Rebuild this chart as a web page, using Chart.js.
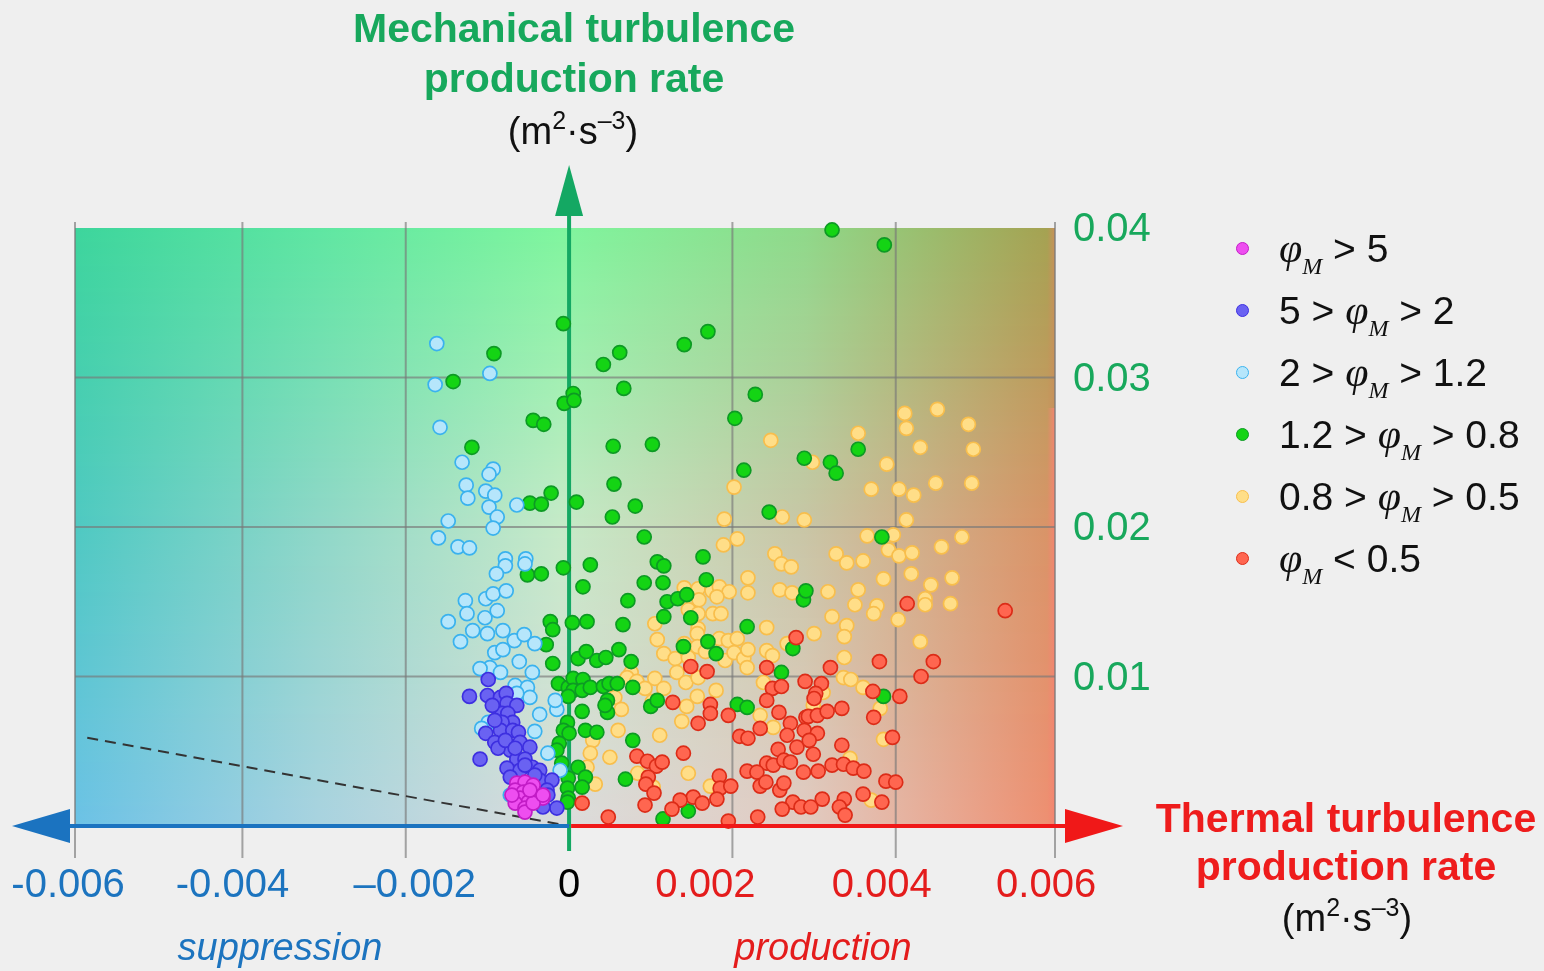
<!DOCTYPE html>
<html>
<head>
<meta charset="utf-8">
<script src="https://cdn.jsdelivr.net/npm/chart.js@4.4.1/dist/chart.umd.min.js"></script>
<style>
  body { margin: 0; background: #efefef; font-family: "Liberation Sans", Arial, Helvetica, sans-serif; }
  #wrap { position: relative; width: 1544px; height: 971px; overflow: hidden; }
  #wrap canvas { position: absolute; left: 0; top: 0; }
  .t { position: absolute; text-align: center; white-space: nowrap; transform: translateX(-50%); }
  .title { font-weight: bold; font-size: 41px; line-height: 50px; }
  .unit { font-size: 38px; color: #111; }
  .unit sup { font-size: 25px; vertical-align: 15px; line-height: 0; }
  .side { font-style: italic; font-size: 38px; }
  .legend { position: absolute; left: 1236px; top: 217px; }
  .legend .row { height: 62px; display: flex; align-items: center; font-size: 39px; color: #111; white-space: pre; }
  .legend .dot { width: 11px; height: 11px; border-radius: 50%; border: 1.5px solid; margin-right: 30px; }
  .phi { font-family: "Liberation Serif", "DejaVu Serif", serif; font-style: italic; font-size: 42px; }
  .sub { font-family: "Liberation Serif", "DejaVu Serif", serif; font-style: italic; font-size: 24px; position: relative; top: 12px; }
</style>
</head>
<body>
<div id="wrap">
  <canvas id="chart" width="1544" height="971"></canvas>
  <div class="t title" style="left:574px; top:3px; color:#17a85c;">Mechanical turbulence<br>production rate</div>
  <div class="t unit" style="left:573px; top:110px;">(m<sup>2</sup>·s<sup>–3</sup>)</div>
  <div class="t title" style="left:1346px; top:794px; color:#ee1c1c; line-height:48px;">Thermal turbulence<br>production rate</div>
  <div class="t unit" style="left:1347px; top:897px;">(m<sup>2</sup>·s<sup>–3</sup>)</div>
  <div class="t side" style="left:280px; top:926px; color:#1c74bf;">suppression</div>
  <div class="t side" style="left:823px; top:926px; color:#e41c1c;">production</div>
  <div class="legend" id="legend"></div>
</div>
<script>
// 축 범위 / 눈금
const xRange = [-0.00605, 0.00595];
const yRange = [0, 0.04];
const xTicks = [-0.006, -0.004, -0.002, 0, 0.002, 0.004, 0.006];
const xTickLabels = ['-0.006', '-0.004', '–0.002', '0', '0.002', '0.004', '0.006'];
const yTicks = [0.01, 0.02, 0.03, 0.04];
const yTickLabels = ['0.01', '0.02', '0.03', '0.04'];

// 범례 라벨
const seriesLabels = ['φM > 5', '5 > φM > 2', '2 > φM > 1.2', '1.2 > φM > 0.8', '0.8 > φM > 0.5', 'φM < 0.5'];

// 점선 (y = -x)
const refLineX = [-0.0059, 0];
const refLineY = [0.0059, 0];

// φM > 5
const phiAbove5 = [
  [-0.00064,0.00287],[-0.00054,0.00293],[-0.00044,0.00273],[-0.00066,0.0024],[-0.00056,0.00227],
  [-0.00039,0.00193],[-0.00032,0.00187],[-0.0006,0.00187],[-0.0005,0.0016],[-0.00066,0.00153],
  [-0.00054,0.0012],[-0.00054,0.00093],[-0.00044,0.00153],[-0.00032,0.00207],[-0.0007,0.00207],
  [-0.00048,0.0024]
];

// 5 > φM > 2
const phi5to2 = [
  [-0.00099,0.0098],[-0.00122,0.00867],[-0.001,0.00873],[-0.00084,0.0086],[-0.00077,0.00887],
  [-0.00076,0.0082],[-0.00064,0.00807],[-0.00082,0.00753],[-0.00075,0.00753],[-0.00069,0.00693],
  [-0.00082,0.00693],[-0.00084,0.0064],[-0.00069,0.0064],[-0.00062,0.00627],[-0.00102,0.0062],
  [-0.00091,0.0056],[-0.0006,0.0056],[-0.00048,0.00527],[-0.00072,0.00507],[-0.00087,0.0052],
  [-0.00109,0.00447],[-0.00064,0.00447],[-0.00054,0.00447],[-0.00076,0.00387],[-0.0006,0.00373],
  [-0.00045,0.00393],[-0.00036,0.00373],[-0.00072,0.00327],[-0.00036,0.00307],[-0.00021,0.00307],
  [-0.00027,0.0024],[-0.00015,0.0012],[-0.00032,0.00127],[-0.00091,0.00707],[-0.00078,0.00573],
  [-0.00094,0.00807],[-0.00066,0.0052],[-0.00042,0.0034],[-0.00054,0.00407],[-0.00026,0.00207]
];

// 2 > φM > 1.2
const phi2to12 = [
  [-0.00162,0.03227],[-0.00097,0.03027],[-0.00164,0.02953],[-0.00158,0.02667],[-0.00131,0.02433],
  [-0.00093,0.02387],[-0.00098,0.02353],[-0.00126,0.0228],[-0.00124,0.02193],[-0.00102,0.0224],
  [-0.00091,0.02213],[-0.00098,0.02133],[-0.00064,0.02147],[-0.00148,0.0204],[-0.00088,0.02067],
  [-0.00093,0.01993],[-0.0016,0.01927],[-0.00136,0.01867],[-0.00122,0.0186],[-0.00078,0.01787],
  [-0.00053,0.01787],[-0.00078,0.0174],[-0.00054,0.01753],[-0.00089,0.01687],[-0.00127,0.01507],
  [-0.00102,0.0152],[-0.00093,0.01553],[-0.00077,0.01573],[-0.00125,0.0142],[-0.00103,0.01393],
  [-0.00088,0.0144],[-0.00148,0.01367],[-0.00118,0.01307],[-0.001,0.01287],[-0.00081,0.01307],
  [-0.00067,0.0124],[-0.00055,0.0128],[-0.00042,0.0122],[-0.00133,0.01233],[-0.00091,0.0116],
  [-0.00081,0.0118],[-0.00061,0.011],[-0.00045,0.01027],[-0.00097,0.0106],[-0.00109,0.01053],
  [-0.00084,0.01027],[-0.00066,0.0094],[-0.00051,0.00927],[-0.00048,0.0086],[-0.00064,0.00887],
  [-0.00036,0.00747],[-0.00015,0.0078],[-0.00017,0.0084],[-0.00042,0.00633],[-0.00099,0.00693],
  [-0.00107,0.00653],[-0.00026,0.00487],[-0.00011,0.00373],[-0.00072,0.00207]
];

// 1.2 > φM > 0.8
const phi12to08 = [
  [0.00322,0.03987],[0.00386,0.03887],[-0.00007,0.0336],[0.0017,0.03307],[0.00141,0.0322],
  [0.00062,0.03167],[0.00042,0.03087],[-0.00092,0.0316],[-0.00142,0.02973],[0.00005,0.02893],
  [-0.00006,0.02827],[0.00006,0.02847],[0.00067,0.02927],[0.00228,0.02887],[0.00203,0.02727],
  [-0.00044,0.02713],[-0.00031,0.02687],[-0.00119,0.02533],[0.00054,0.0254],[0.00102,0.02553],
  [0.00288,0.0246],[0.00354,0.0252],[0.0032,0.02433],[0.00327,0.0236],[0.00214,0.0238],
  [0.00055,0.02287],[-0.00022,0.02227],[-0.00048,0.0216],[-0.00034,0.02153],[0.00009,0.02167],
  [0.00081,0.0214],[0.00053,0.02067],[0.00092,0.01933],[0.00245,0.021],[0.00383,0.01933],
  [0.00164,0.018],[0.00026,0.01747],[0.00108,0.01767],[0.00116,0.0174],[-0.00007,0.01727],
  [-0.00051,0.0168],[-0.00034,0.01687],[0.00017,0.016],[0.00092,0.01627],[0.00115,0.01627],
  [0.00072,0.01507],[0.0012,0.015],[0.00133,0.0152],[0.00144,0.01547],[0.00168,0.01647],
  [0.00116,0.014],[0.00149,0.01393],[0.00004,0.0136],[0.00022,0.01367],[0.00066,0.01347],
  [0.00218,0.01333],[0.00287,0.01513],[0.0029,0.01573],[-0.00023,0.01367],[-0.0002,0.01313],
  [-0.00028,0.01213],[-0.0002,0.01087],[0.00011,0.0112],[0.00021,0.01167],[0.00034,0.01107],
  [0.00045,0.01127],[0.00061,0.0118],[0.00076,0.011],[-0.00013,0.00953],[-0.00001,0.00927],
  [0.00005,0.00987],[0.00017,0.0098],[0.00005,0.00907],[0.00016,0.00907],[0.00026,0.00927],
  [-0.00001,0.00867],[0.00042,0.00933],[0.00049,0.00953],[0.00059,0.00953],[0.00078,0.00927],
  [0.00047,0.0084],[0.00047,0.0076],[0.00016,0.00767],[-0.00002,0.00693],[-0.00007,0.0064],
  [0,0.0062],[0.0002,0.0064],[0.00034,0.00627],[-0.00012,0.00553],[-0.00015,0.00507],
  [-0.00009,0.0042],[0.00011,0.00393],[-0.00001,0.0032],[0.0002,0.00327],[0.00016,0.0026],
  [-0.00002,0.00253],[-0.00001,0.00187],[-0.00002,0.0016],[0.00078,0.00573],[0.00069,0.00313],
  [0.001,0.008],[0.00108,0.0084],[0.00146,0.001],[0.00115,0.00047],[0.0018,0.01153],
  [0.0017,0.01233],[0.0014,0.012],[0.00206,0.00813],[0.00218,0.00793],[0.0026,0.01027],
  [0.00274,0.01187],[0.00385,0.00867],[0.00044,0.00807]
];

// 0.8 > φM > 0.5
const phi08to05 = [
  [0.00247,0.0258],[0.00354,0.02627],[0.00413,0.0266],[0.00489,0.02687],[0.00411,0.0276],
  [0.00451,0.02787],[0.0043,0.02533],[0.00495,0.0252],[0.00389,0.0242],[0.00298,0.02433],
  [0.0037,0.02253],[0.00404,0.02253],[0.00422,0.02213],[0.00449,0.02293],[0.00493,0.02293],
  [0.00202,0.02267],[0.00288,0.02047],[0.00413,0.02047],[0.0019,0.02053],[0.00261,0.02067],
  [0.00206,0.0192],[0.00189,0.0188],[0.00365,0.0194],[0.00397,0.01947],[0.00481,0.01933],
  [0.00456,0.01867],[0.00252,0.0182],[0.0026,0.01753],[0.00272,0.01733],[0.00327,0.0182],
  [0.0034,0.0176],[0.0036,0.01773],[0.00391,0.01847],[0.00404,0.01807],[0.0042,0.01827],
  [0.00385,0.01653],[0.00419,0.01687],[0.00469,0.0166],[0.00443,0.01613],[0.00317,0.01567],
  [0.00354,0.0158],[0.0035,0.0148],[0.00377,0.01473],[0.00373,0.0142],[0.00436,0.0152],
  [0.00436,0.0148],[0.00467,0.01487],[0.00322,0.014],[0.0034,0.0134],[0.00403,0.0138],
  [0.00219,0.0166],[0.00219,0.0156],[0.00258,0.0158],[0.00273,0.0156],[0.00141,0.01593],
  [0.00158,0.01587],[0.00175,0.01573],[0.00184,0.016],[0.00196,0.01567],[0.00181,0.01533],
  [0.00159,0.01513],[0.00146,0.01447],[0.00158,0.0142],[0.00176,0.0142],[0.00186,0.0142],
  [0.00105,0.01353],[0.00158,0.0132],[0.00242,0.01327],[0.00108,0.01247],[0.00157,0.01287],
  [0.00184,0.01253],[0.00195,0.0124],[0.00206,0.01253],[0.00242,0.01173],[0.00141,0.0122],
  [0.00157,0.012],[0.00167,0.01167],[0.00116,0.01153],[0.0013,0.0112],[0.00146,0.01127],
  [0.00191,0.01107],[0.00202,0.0116],[0.00214,0.0112],[0.00219,0.0118],[0.00218,0.0106],
  [0.00249,0.0114],[0.00267,0.0122],[0.00076,0.01027],[0.00071,0.00993],[0.00083,0.00967],
  [0.00105,0.00987],[0.00093,0.0092],[0.00116,0.0092],[0.00132,0.01027],[0.00143,0.0096],
  [0.00158,0.00993],[0.00157,0.00867],[0.00144,0.008],[0.0018,0.00907],[0.00102,0.00833],
  [0.00056,0.0086],[0.00064,0.0078],[0.0006,0.0064],[0.00111,0.00607],[0.00138,0.007],
  [0.00029,0.00573],[0.00026,0.00487],[0.00022,0.00393],[0.0005,0.0046],[0.00084,0.00353],
  [0.00146,0.00353],[0.00173,0.00267],[0.00032,0.0028],[0.00103,0.0026],[0.00238,0.0096],
  [0.00234,0.0074],[0.0025,0.0066],[0.003,0.01287],[0.00337,0.01267],[0.0043,0.01233],
  [0.00337,0.01127],[0.00336,0.00993],[0.00345,0.0098],[0.0036,0.00927],[0.00311,0.00893],
  [0.00299,0.00807],[0.00381,0.00787],[0.00385,0.0058],[0.00344,0.00453],[0.0037,0.00173]
];

// φM < 0.5
const phiBelow05 = [
  [0.00414,0.01487],[0.00534,0.0144],[0.00149,0.01067],[0.00169,0.01033],[0.00127,0.00827],
  [0.00173,0.00813],[0.00173,0.00753],[0.00195,0.0074],[0.00158,0.00687],[0.00083,0.00467],
  [0.00096,0.00433],[0.00107,0.004],[0.00114,0.00427],[0.00097,0.00327],[0.00094,0.0028],
  [0.0014,0.00487],[0.00104,0.0022],[0.00184,0.00333],[0.00185,0.00253],[0.00198,0.00267],
  [0.00181,0.0018],[0.00152,0.00193],[0.00163,0.00153],[0.00136,0.00173],[0.00126,0.00113],
  [0.00093,0.0014],[0.00016,0.00153],[0.00048,0.0006],[0.00195,0.00033],[0.00231,0.0006],
  [0.00278,0.0126],[0.00242,0.0106],[0.00289,0.00967],[0.00249,0.0092],[0.0026,0.00933],
  [0.00242,0.0084],[0.00257,0.0076],[0.00271,0.00687],[0.0029,0.00727],[0.00234,0.00653],
  [0.00209,0.006],[0.00219,0.00587],[0.00267,0.00607],[0.00279,0.00527],[0.00256,0.00513],
  [0.00242,0.0042],[0.0025,0.00407],[0.00263,0.0044],[0.00271,0.00427],[0.00287,0.0036],
  [0.00218,0.00367],[0.0023,0.0036],[0.00234,0.00267],[0.00241,0.00293],[0.00258,0.0024],
  [0.00263,0.00287],[0.00274,0.0016],[0.00284,0.00127],[0.00261,0.00113],[0.0038,0.011],
  [0.00446,0.011],[0.00431,0.01],[0.0032,0.0106],[0.00309,0.00953],[0.00302,0.00887],
  [0.003,0.00853],[0.00372,0.009],[0.00405,0.00867],[0.00334,0.00787],[0.00293,0.00733],
  [0.00304,0.0074],[0.00316,0.00767],[0.00373,0.00727],[0.00288,0.0064],[0.00304,0.0062],
  [0.00294,0.00573],[0.00334,0.0054],[0.00396,0.00593],[0.00299,0.0048],[0.00322,0.00407],
  [0.00336,0.00413],[0.00348,0.00387],[0.00361,0.00367],[0.00305,0.00367],[0.00388,0.003],
  [0.004,0.00293],[0.0036,0.00213],[0.00383,0.0016],[0.0031,0.0018],[0.00337,0.0018],
  [0.00331,0.00127],[0.00338,0.00073],[0.00296,0.00127]
];

const seriesData = [phiAbove5, phi5to2, phi2to12, phi12to08, phi08to05, phiBelow05];
const seriesFill = ['#ee4ef0', '#6a62f2', '#b6e6fb', '#14d414', '#ffde88', '#ff6650'];
const seriesBorder = ['#c21cc6', '#3d2fe0', '#3ab2ee', '#0d9a24', '#f8be4c', '#dc2c18'];
const seriesLayer = [0, 1, 2, 4, 5, 3];

// 배경 그라데이션 색상 (위 / 중간 / 아래, 왼쪽→오른쪽)
const bgRows = [
  ['#3dd59c', '#5fe6a2', '#80f59e', '#8fd98a', '#a5a252'],
  ['#4fc9c2', '#8fd7c8', '#c6eac8', '#c9c6a6', '#d99468'],
  ['#6cc2e6', '#a9d3e0', '#dcdcdc', '#e2cbc2', '#ee9072']
];

function hexToRgb(h) {
  const n = parseInt(h.slice(1), 16);
  return [(n >> 16) & 255, (n >> 8) & 255, n & 255];
}
function mix(a, b, f) {
  const ca = hexToRgb(a), cb = hexToRgb(b);
  return 'rgb(' + ca.map((v, i) => Math.round(v + (cb[i] - v) * f)).join(',') + ')';
}

const backgroundPlugin = {
  id: 'bgGrid',
  beforeDatasetsDraw(chart) {
    const { ctx, chartArea, scales: { x, y } } = chart;
    const l = chartArea.left, r = chartArea.right;
    const t = y.getPixelForValue(yRange[1]), b = y.getPixelForValue(yRange[0]);
    ctx.save();
    // 그라데이션 배경
    for (let py = t; py < b; py += 2) {
      const f = (py - t) / (b - t);
      const g = ctx.createLinearGradient(l, 0, r, 0);
      for (let c = 0; c < 5; c++) {
        const col = f < 0.5 ? mix(bgRows[0][c], bgRows[1][c], f * 2) : mix(bgRows[1][c], bgRows[2][c], (f - 0.5) * 2);
        g.addColorStop(c / 4 * 0.992, col);
      }
      g.addColorStop(1, f < 0.3 ? '#c8905a' : '#f48470');
      ctx.fillStyle = g;
      ctx.fillRect(l, py, r - l, 2.5);
    }
    // 격자
    ctx.strokeStyle = 'rgba(120,120,120,0.65)';
    ctx.lineWidth = 2;
    const vLines = [l].concat(xTicks.slice(1, -1).filter(v => v !== 0).map(v => x.getPixelForValue(v)), [r]);
    vLines.forEach(px => {
      ctx.beginPath();
      ctx.moveTo(px, t - 6);
      ctx.lineTo(px, b + 32);
      ctx.stroke();
    });
    yTicks.slice(0, -1).forEach(v => {
      const py = y.getPixelForValue(v);
      ctx.beginPath();
      ctx.moveTo(l, py);
      ctx.lineTo(r, py);
      ctx.stroke();
    });
    // 세로축 (녹색 화살표)
    const x0 = x.getPixelForValue(0);
    ctx.strokeStyle = '#14a863';
    ctx.fillStyle = '#14a863';
    ctx.lineWidth = 4;
    ctx.beginPath();
    ctx.moveTo(x0, b + 25);
    ctx.lineTo(x0, t - 14);
    ctx.stroke();
    ctx.beginPath();
    ctx.moveTo(x0, t - 63);
    ctx.lineTo(x0 - 14, t - 12);
    ctx.lineTo(x0 + 14, t - 12);
    ctx.closePath();
    ctx.fill();
    ctx.restore();
  },
  afterDatasetsDraw(chart) {
    const { ctx, chartArea, scales: { x, y } } = chart;
    const l = chartArea.left, r = chartArea.right;
    const b = y.getPixelForValue(0);
    const x0 = x.getPixelForValue(0);
    ctx.save();
    // 가로축 (파랑 / 빨강 화살표)
    ctx.lineWidth = 4;
    ctx.strokeStyle = '#1b73c0';
    ctx.fillStyle = '#1b73c0';
    ctx.beginPath();
    ctx.moveTo(x0, b);
    ctx.lineTo(l - 8, b);
    ctx.stroke();
    ctx.beginPath();
    ctx.moveTo(l - 63, b);
    ctx.lineTo(l - 5, b - 17);
    ctx.lineTo(l - 5, b + 17);
    ctx.closePath();
    ctx.fill();
    ctx.strokeStyle = '#f01818';
    ctx.fillStyle = '#f01818';
    ctx.beginPath();
    ctx.moveTo(x0 + 2, b);
    ctx.lineTo(r + 12, b);
    ctx.stroke();
    ctx.beginPath();
    ctx.moveTo(r + 68, b);
    ctx.lineTo(r + 10, b - 17);
    ctx.lineTo(r + 10, b + 17);
    ctx.closePath();
    ctx.fill();
    // 눈금 라벨
    ctx.font = '40px "Liberation Sans", Arial, sans-serif';
    ctx.textBaseline = 'middle';
    ctx.textAlign = 'center';
    const xLabelShift = [-11, -10, 9, 0, -27, -14, -13];
    xTicks.forEach((v, i) => {
      ctx.fillStyle = v < 0 ? '#1c74bf' : (v === 0 ? '#000' : '#e41c1c');
      ctx.fillText(xTickLabels[i], x.getPixelForValue(v) + xLabelShift[i], b + 60);
    });
    ctx.textAlign = 'left';
    ctx.fillStyle = '#18a85c';
    yTicks.forEach((v, i) => {
      ctx.fillText(yTickLabels[i], r + 18, y.getPixelForValue(v) + 2);
    });
    ctx.restore();
  }
};

const datasets = seriesData.map((pts, i) => ({
  label: seriesLabels[i],
  data: pts.map(p => ({ x: p[0], y: p[1] })),
  backgroundColor: seriesFill[i],
  borderColor: seriesBorder[i],
  borderWidth: 1.7,
  pointRadius: 7,
  order: seriesLayer[i],
  clip: false
}));

datasets.push({
  type: 'line',
  label: 'ref',
  data: refLineX.map((v, i) => ({ x: v, y: refLineY[i] })),
  borderColor: '#333',
  borderWidth: 2,
  borderDash: [11, 7],
  pointRadius: 0,
  order: 10
});

new Chart(document.getElementById('chart'), {
  type: 'scatter',
  data: { datasets: datasets },
  options: {
    responsive: false,
    animation: false,
    events: [],
    layout: { padding: { left: 75, right: 489, top: 228, bottom: 145 } },
    plugins: { legend: { display: false }, tooltip: { enabled: false } },
    scales: {
      x: { display: false, min: xRange[0], max: xRange[1] },
      y: { display: false, min: yRange[0], max: yRange[1] }
    }
  },
  plugins: [backgroundPlugin]
});

// 범례
const legend = document.getElementById('legend');
seriesLabels.forEach((lab, i) => {
  const row = document.createElement('div');
  row.className = 'row';
  const esc = lab.replace(/>/g, '&gt;').replace(/</g, '&lt;');
  const html = esc.replace('φM', '<span class="phi">φ</span><span class="sub">M</span>');
  row.innerHTML = '<span class="dot" style="background:' + seriesFill[i] + ';border-color:' + seriesBorder[i] + '"></span><span>' + html + '</span>';
  legend.appendChild(row);
});
</script>
</body>
</html>
